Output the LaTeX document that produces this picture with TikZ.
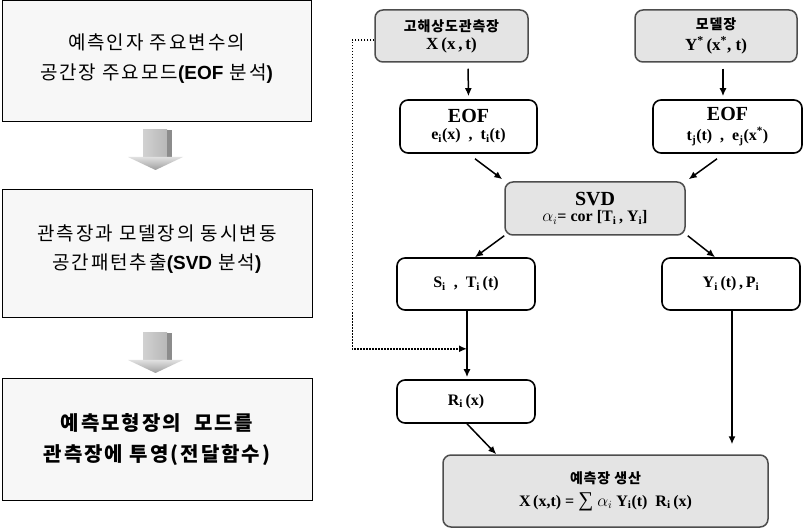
\documentclass[tikz,border=0pt]{standalone}
\usepackage{fontspec}
\setmainfont{Liberation Serif}
\newfontfamily\krleft[LetterSpace=10]{Noto Sans CJK KR}
\newfontfamily\krright[LetterSpace=6]{Noto Sans CJK KR}
\newfontfamily\arialf{Liberation Sans}
\usetikzlibrary{arrows.meta,calc}
\definecolor{leftfill}{HTML}{F7F7F7}
\definecolor{grayfill}{HTML}{E4E4E4}
\definecolor{grayedge}{HTML}{4D4D4D}
\newcommand{\sbi}[1]{\textsubscript{#1}}
\begin{document}
\begin{tikzpicture}[x=1pt,y=-1pt,
  leftbox/.style={draw=black,line width=1pt,fill=leftfill,align=center,inner sep=0pt},
  graybox/.style={draw=grayedge,line width=1.5pt,fill=grayfill,rounded corners=8pt,align=center,inner sep=0pt},
  whitebox/.style={draw=black,line width=1.6pt,fill=white,rounded corners=8pt,align=center,inner sep=0pt},
  arr/.style={line width=1.5pt,-{Latex[length=8pt,width=7pt]}},
  dotarr/.style={line width=1.5pt,dash pattern=on 1.5pt off 1.5pt,-{Latex[length=8pt,width=7pt]}},
  lat/.style={font=\fontsize{16}{20}\selectfont\bfseries},
]
\useasboundingbox (0,0) rectangle (809,529);
\fill[white] (0,0) rectangle (809,529);

% ---- left column ----
\node[leftbox,minimum width=309pt,minimum height=121pt,
      font=\krleft\fontsize{19}{30}\selectfont] (b1) at (156.5,61.5)
  {예측인자 주요변수의\\공간장 주요모드{\arialf\bfseries (EOF} 분석{\arialf\bfseries )}\\[-21pt]};
\node[leftbox,minimum width=310pt,minimum height=128pt,
      font=\krleft\fontsize{19}{29}\selectfont] (b2) at (157,254)
  {관측장과 모델장의 동시변동\\공간패턴추출{\arialf\bfseries (SVD} 분석{\arialf\bfseries )}\\[-16pt]};
\node[leftbox,minimum width=310pt,minimum height=121pt,
      font=\krleft\fontsize{20}{31}\selectfont\bfseries] (b3) at (157,439.5)
  {예측모형장의 \ 모드를\\관측장에 투영(전달함수)};

% block arrows
\foreach \yt/\yh/\yb in {130/157/170, 333/360/373}{
  \shade[left color=black!18,right color=black!28] (143,\yt) rectangle (167,\yh);
  \fill[black!45] (167,\yt) rectangle (172,\yh);
  \shade[top color=black!12,bottom color=black!38] (128,\yh) -- (183,\yh) -- (155.5,\yb) -- cycle;
}

% ---- right column ----
\node[graybox,minimum width=153pt,minimum height=52pt] (obs) at (451.5,36)
  {{\krright\fontsize{14}{14}\selectfont\bfseries 고해상도관측장}\\[4pt]
   {\fontsize{17}{17}\selectfont\bfseries X\,(x\,,\,t)}};
\node[graybox,minimum width=162pt,minimum height=52pt] (mod) at (716,36)
  {{\krright\fontsize{14}{14}\selectfont\bfseries 모델장}\\[4pt]
   {\fontsize{17}{17}\selectfont\bfseries Y\textsuperscript{*}\,(x\textsuperscript{*}, t)}};
\node[whitebox,minimum width=137pt,minimum height=53pt] (eofl) at (468.5,126.5)
  {{\fontsize{20}{20}\selectfont\bfseries EOF}\\[5pt]
   {\fontsize{16}{16}\selectfont\bfseries e\sbi{i}(x)\ \ ,\ \ t\sbi{i}(t)}};
\node[whitebox,minimum width=149pt,minimum height=53pt] (eofr) at (727.5,126.5)
  {{\fontsize{20}{20}\selectfont\bfseries EOF}\\[5pt]
   {\fontsize{16}{16}\selectfont\bfseries t\sbi{j}(t)\ \ ,\ \ e\sbi{j}(x\textsuperscript{*})}};
\node[graybox,minimum width=180pt,minimum height=53pt] (svd) at (595,208.5)
  {{\fontsize{20}{20}\selectfont\bfseries SVD}\\[4pt]
   {\fontsize{16}{16}\selectfont $\alpha_i$\bfseries= cor [T\sbi{i}\,, Y\sbi{i}]}};
\node[whitebox,minimum width=138pt,minimum height=52pt,lat] (s) at (466,284)
  {S\sbi{i}\ \ ,\ \ T\sbi{i}\,(t)};
\node[whitebox,minimum width=138pt,minimum height=52pt,lat] (y) at (731,284)
  {Y\sbi{i}\,(t)\,,\,P\sbi{i}};
\node[whitebox,minimum width=138pt,minimum height=43pt,lat] (r) at (466,401.5)
  {R\sbi{i}\,(x)};
\node[graybox,minimum width=325pt,minimum height=72pt] (fin) at (605.5,491)
  {{\krright\fontsize{14}{14}\selectfont\bfseries 예측장 생산}\\[7pt]
   {\fontsize{16}{16}\selectfont\bfseries X\,(x,t) = {\mdseries\fontsize{21}{16}\selectfont ∑} $\alpha_i$ Y\sbi{i}(t)\ \ R\sbi{i}\,(x)}};

% connectors
\draw[arr,shorten <=6pt,shorten >=3pt] ([xshift=16.5pt]obs.south) -- (eofl.north);
\draw[arr,shorten <=6pt,shorten >=3pt] ([xshift=7pt]mod.south) -- ([xshift=-4.5pt]eofr.north);
\draw[arr] ($(eofl.south)+(6.5,5)$) -- ($(svd.north west)+(-2,-2)$);
\draw[arr] ($(eofr.south)+(-10.5,5)$) -- ($(svd.north east)+(3,-2)$);
\draw[arr] ($(svd.south west)+(0,0)$) -- ($(s.north)+(9,0)$);
\draw[arr] ($(svd.south east)+(2,0)$) -- ($(y.north)+(-16,0)$);
\draw[arr,shorten >=2pt] ([xshift=1pt]s.south) -- ([xshift=1pt]r.north);
\coordinate (join) at ($(s.south)+(1,38)$);
\draw[dotarr] ($(obs.west)+(0,4)$) -- ++(-22,0) |- (join);
\draw[arr,shorten >=10pt] ([xshift=1pt]y.south) -- ([xshift=1pt]y.south |- fin.north);
\draw[arr] ([xshift=1pt]r.south) -- ($(fin.north west)+(54,0)$);
\end{tikzpicture}
\end{document}
